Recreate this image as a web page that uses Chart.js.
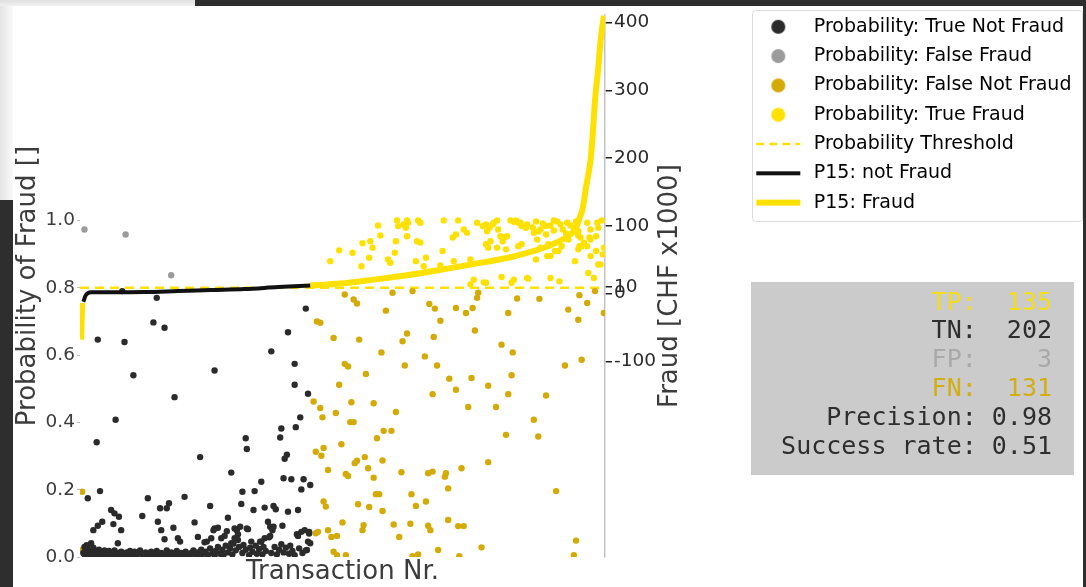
<!DOCTYPE html>
<html>
<head>
<meta charset="utf-8">
<script src="https://cdn.jsdelivr.net/npm/chart.js@4.4.1/dist/chart.umd.min.js"></script>
<style>
  html, body { margin: 0; padding: 0; background: #fff; }
  #wrap { position: relative; width: 1086px; height: 587px; overflow: hidden; }
  #fraudChart { position: absolute; left: 0; top: 0; }
  .frame { position: absolute; pointer-events: none; }
</style>
</head>
<body>
<div id="wrap">
  <canvas id="fraudChart" width="1086" height="587"></canvas>
  <div class="frame" style="left:0;top:0;width:195px;height:6px;background:linear-gradient(#e0e0e0,#f0f0f0)"></div>
  <div class="frame" style="left:195px;top:0;width:891px;height:6px;background:#2e2e2e"></div>
  <div class="frame" style="left:0;top:6px;width:13px;height:194px;background:linear-gradient(90deg,#e4e4e4,#fafafa)"></div>
  <div class="frame" style="left:0;top:200px;width:13px;height:387px;background:#2e2e2e"></div>
  <div class="frame" style="left:1083px;top:0;width:3px;height:587px;background:#2e2e2e"></div>
</div>
<script>
// transaction index range and axis ticks
var transactionRange = [-1, 471];
var probabilityRange = [0, 1.61];
var fraudRange = [-388.9, 411.1];
var probabilityTicks = [0, 0.2, 0.4, 0.6, 0.8, 1.0];
var fraudTicks = [-100, 0, 10, 100, 200, 300, 400];
var probabilityThreshold = 0.8;

// confusion numbers
var truePositives = 135;
var trueNegatives = 202;
var falsePositives = 3;
var falseNegatives = 131;
var precision = 0.98;
var successRate = 0.51;

// [transaction nr, probability]
var trueNotFraud = [
  [15,0.646],[39,0.639],[47,0.54],[65,0.697],[75,0.681],[120,0.554],[171,0.611],[186,0.668],[192,0.574],[202,0.738],
  [37,0.79],[68,0.77],[14,0.341],[31,0.408],[17,0.196],[6,0.175],[84,0.475],[107,0.297],[192,0.512],[204,0.485],
  [197,0.415],[193,0.386],[180,0.382],[179,0.355],[148,0.353],[149,0.321],[135,0.251],[185,0.304],[183,0.292],[162,0.224],
  [182,0.234],[189,0.231],[200,0.231],[198,0.201],[206,0.214],[145,0.194],[156,0.196],[60,0.175],[93,0.179],[79,0.16],
  [77,0.145],[71,0.145],[116,0.152],[144,0.158],[165,0.147],[173,0.152],[175,0.142],[186,0.135],[195,0.14],[155,0.14],
  [27,0.14],[34,0.12],[30,0.13],[55,0.122],[69,0.105],[102,0.103],[132,0.117],[29,0.098],[19,0.105],[15,0.093],
  [11,0.08],[36,0.08],[72,0.08],[83,0.087],[119,0.08],[123,0.087],[131,0.077],[140,0.08],[143,0.09],[150,0.083],
  [168,0.105],[170,0.09],[172,0.08],[181,0.093],[198,0.075],[201,0.08],[205,0.075],[195,0.063],[206,0.041],[203,0.021],
  [75,0.053],[87,0.056],[89,0.046],[105,0.06],[169,0.059],[162,0.046],[153,0.046],[33,0.041],[113,0.046],[126,0.056],
  [135,0.041],[141,0.051],[9,0.041],[111,0.044],[117,0.056],[129,0.063],[138,0.056],[141,0.068],[161,0.046],[165,0.056],
  [170,0.063],[204,0.046],[194,0.068],[120,0.085],[138,0.085],[149,0.085],[173,0.09],[205,0.07],
  [2,0.012],[3,0.03],[3,0.008],[4,0.02],[5,0.035],[5,0.005],[6,0.025],[7,0.015],[8,0.004],[9,0.02],
  [10,0.01],[11,0.028],[12,0.006],[13,0.018],[14,0.01],[16,0.022],[17,0.006],[18,0.014],[20,0.009],[21,0.02],
  [22,0.004],[24,0.012],[25,0.018],[27,0.006],[28,0.014],[30,0.02],[31,0.008],[33,0.012],[35,0.005],[36,0.016],
  [38,0.01],[39,0.004],[41,0.014],[42,0.008],[44,0.018],[45,0.004],[47,0.01],[48,0.016],[50,0.006],[52,0.012],
  [53,0.02],[55,0.008],[57,0.004],[58,0.014],[60,0.01],[62,0.006],[63,0.016],[65,0.004],[67,0.01],[68,0.018],
  [70,0.006],[72,0.012],[74,0.004],[76,0.01],[77,0.02],[79,0.006],[81,0.014],[83,0.004],[85,0.01],[86,0.018],
  [88,0.006],[90,0.012],[92,0.004],[94,0.016],[96,0.008],[98,0.004],[99,0.012],[101,0.02],[103,0.008],[105,0.014],
  [107,0.004],[108,0.022],[110,0.01],[112,0.016],[114,0.006],[116,0.026],[118,0.012],[120,0.004],[121,0.018],[123,0.03],
  [125,0.01],[127,0.022],[128,0.006],[130,0.034],[132,0.014],[134,0.026],[136,0.008],[137,0.04],[139,0.02],[142,0.03],
  [145,0.012],[146,0.036],[148,0.022],[151,0.006],[152,0.028],[154,0.016],[157,0.034],[158,0.01],[160,0.024],[163,0.008],
  [164,0.03],[166,0.018],[171,0.012],[174,0.03],[176,0.008],[178,0.022],[180,0.038],[182,0.014],[184,0.028],[187,0.01],
  [188,0.034],[190,0.018],[192,0.006],[196,0.026],[199,0.012],[202,0.02]
];
var falseFraud = [[3,0.973],[40,0.958],[81,0.837]];
var falseNotFraud = [
  [0,0.021],[1,0.194],
  [237,0.78],[245,0.765],[248,0.753],[280,0.785],[298,0.79],[274,0.732],[313,0.752],[318,0.738],[323,0.702],[337,0.74],
  [346,0.725],[352,0.74],[357,0.785],[356,0.77],[354,0.673],[384,0.725],[392,0.768],[412,0.767],[438,0.735],[448,0.778],
  [455,0.755],[447,0.705],[462,0.79],[470,0.725],[250,0.646],[289,0.641],[293,0.664],[317,0.654],[270,0.608],[309,0.596],
  [378,0.631],[388,0.608],[237,0.574],[240,0.566],[256,0.544],[291,0.569],[320,0.569],[387,0.54],[435,0.569],[450,0.586],
  [331,0.53],[351,0.532],[337,0.497],[366,0.509],[384,0.484],[418,0.48],[316,0.484],[243,0.46],[263,0.457],[283,0.431],
  [348,0.446],[373,0.446],[407,0.408],[411,0.358],[382,0.363],[242,0.401],[245,0.401],[272,0.375],[279,0.375],[266,0.353],
  [234,0.335],[255,0.297],[271,0.287],[246,0.279],[248,0.286],[258,0.264],[238,0.247],[240,0.241],[263,0.236],[288,0.252],
  [312,0.249],[316,0.254],[328,0.249],[327,0.239],[342,0.264],[366,0.282],[330,0.204],[427,0.196],[265,0.187],[268,0.187],
  [297,0.187],[249,0.157],[259,0.149],[271,0.137],[301,0.152],[310,0.165],[235,0.103],[254,0.095],[253,0.08],[281,0.097],
  [296,0.099],[312,0.093],[314,0.08],[330,0.11],[339,0.092],[344,0.092],[286,0.06],[321,0.021],[360,0.029],[445,0.049],
  [443,0.006],[340,0.003],[298,0.003],[303,0.008],[238,0.006],
  [212,0.7],[215,0.696],[227,0.651],[209,0.462],[215,0.443],[217,0.415],[229,0.428],[232,0.512],[211,0.313],[218,0.324],
  [216,0.301],[222,0.259],[218,0.165],[220,0.15],[211,0.071],[213,0.075],[222,0.08],[225,0.06],[230,0.063],[227,0.016],
  [230,0.006]
];
var trueFraud = [
  [224,0.879],[232,0.911],[244,0.904],[252,0.864],[253,0.932],[260,0.938],[262,0.919],[259,0.889],[267,0.985],[269,0.955],
  [284,1.0],[285,0.983],[293,1.0],[294,0.993],[303,1.0],[305,0.993],[283,0.938],[276,0.884],[278,0.874],[293,0.953],
  [302,0.938],[301,0.879],[310,0.889],[325,0.909],[326,1.0],[339,1.0],[337,0.958],[334,0.949],[344,0.973],[347,0.963],
  [335,0.879],[350,0.884],[356,0.993],[361,0.983],[365,0.968],[370,0.988],[374,1.0],[375,0.973],[364,0.929],[366,0.919],
  [368,0.938],[377,0.953],[379,0.938],[374,0.919],[382,0.914],[386,1.0],[391,1.0],[395,0.993],[401,0.988],[407,0.963],
  [413,0.973],[418,0.983],[425,1.0],[431,0.988],[437,0.993],[443,0.978],[447,0.968],[410,0.943],[420,0.929],[426,0.909],
  [432,0.923],[438,0.943],[409,0.884],[419,0.894],[455,0.993],[465,0.978],[468,1.0],[448,0.923],[452,0.934],[458,0.943],
  [463,0.909],[469,0.899],[467,0.869],[461,0.829],[444,0.879],[422,0.829],[430,0.819],[401,0.829],[378,0.832],[389,0.824],
  [362,0.816],[353,0.824],[350,0.81],[364,0.815],[387,0.815],[402,0.827],[323,0.866],[308,0.864],[282,0.904],[290,0.988],
  [292,0.978],[305,0.934],[364,0.988],[367,0.978],[371,0.993],[380,0.949],[383,0.953],[389,0.996],[393,0.993],[396,0.983],
  [400,0.978],[393,0.923],[396,0.929],[406,0.979],[409,0.997],[411,0.967],[415,0.991],[418,0.958],[422,0.985],[425,0.97],
  [428,0.997],[433,0.973],[436,0.961],[440,0.985],[445,0.997],[447,0.955],[413,0.919],[422,0.894],[429,0.909],[447,0.914],
  [450,0.923],[458,0.973],[464,0.993],[463,0.953],[457,0.949],[449,0.949],[455,0.923],[458,0.894],[465,0.869],[470,0.919],
  [456,0.844]
];

// P15 amounts [transaction nr, CHF x1000], null breaks the line
var p15NotFraud = [[2,-12],[4,-3],[6,0.5],[9,1.8],[27,1.8],[57,2.2],[87,3.7],[117,5.2],[147,6.6],[177,9.6],[206,12]];
var p15Fraud = [[0,-68],[1,-14],[1.5,null],[206,12],[233,14.7],[263,20.6],[293,27],[323,35],[353,43.7],[383,52.5],
  [401,60],[419,69.6],[437,84],[445,96.6],[448,111],[451,126],[454,158],[458,197],[460,236],[462,285],[465,334],
  [467,373],[470,410]];

var colTN = '#2b2b2b', colFP = '#9b9b9b', colFN = '#d4aa06', colTP = '#ffe100';

function toPoints(list) {
  return list.map(function(p) { return {x: p[0], y: p[1]}; });
}

//small canvases used as legend markers
function marker(kind, color) {
  var c = document.createElement('canvas');
  c.width = 46; c.height = 18;
  var g = c.getContext('2d');
  if (kind === 'dot') {
    g.fillStyle = color;
    g.beginPath(); g.arc(23, 9, 7, 0, Math.PI * 2); g.fill();
  } else {
    g.strokeStyle = color;
    g.lineWidth = kind === 'thick' ? 6 : (kind === 'dash' ? 2.5 : 4);
    if (kind === 'dash') g.setLineDash([8, 5]);
    g.beginPath(); g.moveTo(1, 9); g.lineTo(45, 9); g.stroke();
  }
  return c;
}

Chart.defaults.font.family = '"DejaVu Sans", sans-serif';
Chart.defaults.color = '#3c3c3c';

var tickFont = {size: 18.5, lineHeight: 1.405};
var titleFont = {size: 26, lineHeight: 1.15};

var extras = {
  id: 'extras',
  beforeLayout: function(chart) {
    var lg = chart.legend;
    if (lg && !lg._fixedWidth) {
      var fit = lg.fit;
      lg.fit = function() { fit.call(this); this.width = 344; };
      lg._fixedWidth = true;
    }
  },
  beforeDraw: function(chart) {
    //frame round the legend
    var ctx = chart.ctx;
    var lx = chart.legend.left + 10;
    ctx.save();
    ctx.fillStyle = '#fff';
    ctx.strokeStyle = '#dcdcdc';
    ctx.lineWidth = 1;
    ctx.beginPath();
    ctx.roundRect(lx + 0.5, 10.5, 1082 - lx, 211, 3);
    ctx.fill(); ctx.stroke();
    ctx.restore();
  },
  afterDraw: function(chart) {
    var ctx = chart.ctx;
    var area = chart.chartArea;
    ctx.save();
    // right axis title, reading upwards
    ctx.translate(area.right + 65, (area.top + area.bottom) / 2);
    ctx.rotate(-Math.PI / 2);
    ctx.font = '26px "DejaVu Sans"';
    ctx.fillStyle = '#3c3c3c';
    ctx.textAlign = 'center';
    ctx.textBaseline = 'middle';
    ctx.fillText('Fraud [CHF x1000]', 0, 0);
    ctx.restore();

    // stats box
    ctx.save();
    ctx.fillStyle = '#cbcbcb';
    ctx.fillRect(751, 282, 323, 193);
    var lines = [
      ['TP: ' + String(truePositives).padStart(4), '#f3dd1a'],
      ['TN: ' + String(trueNegatives).padStart(4), '#2e2e2e'],
      ['FP: ' + String(falsePositives).padStart(4), '#a9a9a9'],
      ['FN: ' + String(falseNegatives).padStart(4), '#d4ad10'],
      ['Precision: ' + precision.toFixed(2), '#2e2e2e'],
      ['Success rate: ' + successRate.toFixed(2), '#2e2e2e']
    ];
    ctx.font = '25px "DejaVu Sans Mono"';
    ctx.textAlign = 'right';
    ctx.textBaseline = 'middle';
    for (var i = 0; i < lines.length; i++) {
      ctx.fillStyle = lines[i][1];
      ctx.fillText(lines[i][0], 1052, 303 + i * 28.8);
    }
    ctx.restore();
  }
};

function scatterSet(label, list, color) {
  return {
    label: label, type: 'scatter', data: toPoints(list), yAxisID: 'y',
    backgroundColor: color, borderColor: color, borderWidth: 0,
    pointRadius: 3.2, pointHoverRadius: 3.2, order: 1,
    legendMarker: marker('dot', color)
  };
}

var datasets = [
  scatterSet('Probability: True Not Fraud', trueNotFraud, colTN),
  scatterSet('Probability: False Fraud', falseFraud, colFP),
  scatterSet('Probability: False Not Fraud', falseNotFraud, colFN),
  scatterSet('Probability: True Fraud', trueFraud, colTP),
  {
    label: 'Probability Threshold', type: 'line', yAxisID: 'y',
    data: [{x: transactionRange[0], y: probabilityThreshold}, {x: transactionRange[1], y: probabilityThreshold}],
    borderColor: colTP, borderWidth: 2.5, borderDash: [9, 6], pointRadius: 0, order: 2,
    legendMarker: marker('dash', colTP)
  },
  {
    label: 'P15: not Fraud', type: 'line', yAxisID: 'y1', data: toPoints(p15NotFraud),
    borderColor: '#111', borderWidth: 4, pointRadius: 0, cubicInterpolationMode: 'monotone', order: 0,
    legendMarker: marker('solid', '#111')
  },
  {
    label: 'P15: Fraud', type: 'line', yAxisID: 'y1', data: toPoints(p15Fraud),
    borderColor: colTP, borderWidth: 6, pointRadius: 0, cubicInterpolationMode: 'monotone', order: 0,
    legendMarker: marker('thick', colTP)
  }
];

var ctx = document.getElementById('fraudChart');
var fraudChart = new Chart(ctx, {
  type: 'scatter',
  data: {datasets: datasets},
  plugins: [extras],
  options: {
    responsive: false,
    animation: false,
    events: [],
    layout: {padding: {top: 7, left: 0, right: 0, bottom: 0}},
    plugins: {
      tooltip: {enabled: false},
      legend: {
        position: 'right',
        align: 'start',
        labels: {
          usePointStyle: true,
          pointStyleWidth: 52,
          padding: 10.3,
          color: '#3c3c3c',
          font: {size: 19},
          generateLabels: function(chart) {
            return chart.data.datasets.map(function(ds, i) {
              return {text: ds.label, pointStyle: ds.legendMarker, fillStyle: 'rgba(0,0,0,0)',
                      strokeStyle: 'rgba(0,0,0,0)', lineWidth: 0, hidden: false, datasetIndex: i};
            });
          }
        }
      }
    },
    scales: {
      x: {
        type: 'linear', min: transactionRange[0], max: transactionRange[1],
        ticks: {display: false},
        grid: {display: false, drawTicks: false},
        border: {display: false},
        title: {display: true, text: 'Transaction Nr.', font: titleFont, padding: {top: 0, bottom: 0}}
      },
      y: {
        type: 'linear', position: 'left', min: probabilityRange[0], max: probabilityRange[1],
        afterBuildTicks: function(s) { s.ticks = probabilityTicks.map(function(v) { return {value: v}; }); },
        afterFit: function(s) { s.width = 80; },
        ticks: {autoSkip: false, padding: 2, font: tickFont, callback: function(v) { return v.toFixed(1); }},
        grid: {drawOnChartArea: false, tickLength: 3, color: '#bdbdbd'},
        border: {display: false},
        title: {display: true, text: 'Probability of Fraud []', font: titleFont, padding: {top: 13}}
      },
      y1: {
        type: 'linear', position: 'right', min: fraudRange[0], max: fraudRange[1],
        afterBuildTicks: function(s) { s.ticks = fraudTicks.map(function(v) { return {value: v}; }); },
        afterFit: function(s) { s.width = 137; },
        ticks: {autoSkip: false, padding: 2, font: tickFont, color: '#2a2a2a'},
        grid: {drawOnChartArea: false, tickLength: 7, color: '#222', lineWidth: 1.5},
        border: {display: true, color: '#c4c4c4', width: 1.5}
      }
    }
  }
});
</script>
</body>
</html>
